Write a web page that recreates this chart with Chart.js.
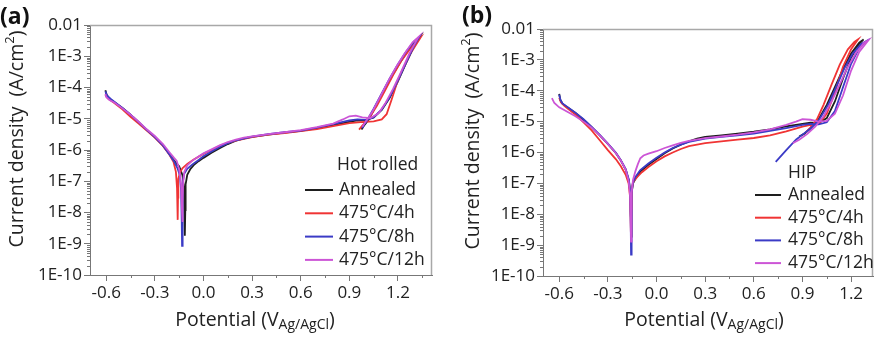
<!DOCTYPE html>
<html>
<head>
<meta charset="utf-8">
<script src="https://cdn.jsdelivr.net/npm/chart.js@4/dist/chart.umd.min.js"></script>
<style>
  html, body { margin: 0; padding: 0; background: #fff; }
  #wrap { position: relative; width: 876px; height: 338px; }
  canvas { position: absolute; top: 0; }
</style>
</head>
<body>
<div id="wrap">
  <canvas id="hot" width="440" height="338" style="left:0"></canvas>
  <canvas id="hip" width="436" height="338" style="left:440px"></canvas>
</div>
<script>
// axis ticks
const potentialTicks = [-0.6, -0.3, 0.0, 0.3, 0.6, 0.9, 1.2];
const potentialTickLabels = ['-0.6', '-0.3', '0.0', '0.3', '0.6', '0.9', '1.2'];
const currentTicks = [1e-10, 1e-9, 1e-8, 1e-7, 1e-6, 1e-5, 1e-4, 1e-3, 1e-2];
const currentTickLabels = ['1E-10', '1E-9', '1E-8', '1E-7', '1E-6', '1E-5', '1E-4', '1E-3', '0.01'];

const seriesNames = ['Annealed', '475\u00B0C/4h', '475\u00B0C/8h', '475\u00B0C/12h'];
const seriesColors = ['#1e1e1e', '#f03434', '#3b3bc6', '#cc55d6'];

// (a) hot rolled: [potential V, current density A/cm2]
const hotAnnealed = [[-0.605, 8.2e-5], [-0.598, 6e-5], [-0.58, 4.4e-5], [-0.55, 3.4e-5], [-0.5, 2.2e-5], [-0.45, 1.35e-5], [-0.4, 7.8e-6], [-0.35, 4.4e-6], [-0.3, 2.6e-6], [-0.25, 1.4e-6], [-0.21, 7.5e-7], [-0.18, 4.5e-7], [-0.165, 3.6e-7], [-0.15, 3e-7], [-0.13, 1.6e-7], [-0.12, 6e-8], [-0.116, 1e-8], [-0.114, 1.8e-9], [-0.112, 1.2e-8], [-0.11, 8e-8], [-0.1, 1.6e-7], [-0.08, 2.5e-7], [-0.06, 3.3e-7], [-0.03, 4.4e-7], [0.0, 5.6e-7], [0.05, 8.2e-7], [0.1, 1.15e-6], [0.15, 1.55e-6], [0.2, 2e-6], [0.25, 2.35e-6], [0.3, 2.65e-6], [0.4, 3.1e-6], [0.5, 3.6e-6], [0.6, 4.1e-6], [0.7, 5e-6], [0.8, 6.3e-6], [0.9, 8e-6], [0.95, 8.8e-6], [1.0, 9e-6], [1.05, 1.1e-5], [1.1, 1.9e-5], [1.15, 4.8e-5], [1.2, 1.6e-4], [1.25, 6e-4], [1.3, 2.1e-3], [1.335, 4.2e-3], [1.31, 3.2e-3], [1.26, 1.5e-3], [1.21, 6e-4], [1.16, 2.2e-4], [1.11, 7.5e-5], [1.06, 2.4e-5], [1.02, 9.5e-6], [0.99, 6e-6], [0.975, 4.5e-6]];
const hot4h = [[-0.605, 5.8e-5], [-0.59, 4.5e-5], [-0.55, 3.2e-5], [-0.5, 2e-5], [-0.45, 1.15e-5], [-0.4, 7e-6], [-0.35, 4.2e-6], [-0.3, 2.5e-6], [-0.25, 1.35e-6], [-0.21, 7e-7], [-0.185, 4.2e-7], [-0.17, 2e-7], [-0.163, 6e-8], [-0.16, 1.5e-8], [-0.158, 5.8e-9], [-0.157, 3e-8], [-0.155, 1.2e-7], [-0.145, 1.9e-7], [-0.13, 2.6e-7], [-0.1, 3.6e-7], [-0.06, 5e-7], [0.0, 7.5e-7], [0.05, 1e-6], [0.1, 1.35e-6], [0.15, 1.7e-6], [0.2, 2e-6], [0.3, 2.6e-6], [0.4, 3.1e-6], [0.5, 3.5e-6], [0.6, 4e-6], [0.7, 4.7e-6], [0.8, 5.8e-6], [0.9, 7.2e-6], [0.97, 7.8e-6], [1.05, 8.3e-6], [1.1, 9.5e-6], [1.13, 1.4e-5], [1.16, 4e-5], [1.19, 1.2e-4], [1.22, 3e-4], [1.28, 1.3e-3], [1.34, 4e-3], [1.32, 3.3e-3], [1.27, 1.6e-3], [1.22, 7e-4], [1.17, 2.5e-4], [1.12, 8e-5], [1.07, 2.6e-5], [1.02, 1e-5], [0.98, 6e-6], [0.96, 4.5e-6]];
const hot8h = [[-0.605, 7.5e-5], [-0.595, 5.5e-5], [-0.57, 4.2e-5], [-0.55, 3.5e-5], [-0.5, 2.2e-5], [-0.45, 1.35e-5], [-0.4, 7.8e-6], [-0.35, 4.4e-6], [-0.3, 2.6e-6], [-0.25, 1.4e-6], [-0.21, 7.2e-7], [-0.18, 4.2e-7], [-0.16, 2.6e-7], [-0.145, 1.5e-7], [-0.138, 5e-8], [-0.134, 5e-9], [-0.132, 8.5e-10], [-0.13, 1e-8], [-0.127, 8e-8], [-0.12, 1.7e-7], [-0.1, 2.5e-7], [-0.07, 3.4e-7], [-0.03, 4.8e-7], [0.0, 6.3e-7], [0.05, 9e-7], [0.1, 1.25e-6], [0.15, 1.65e-6], [0.2, 2.05e-6], [0.3, 2.7e-6], [0.4, 3.2e-6], [0.5, 3.7e-6], [0.6, 4.2e-6], [0.7, 5.2e-6], [0.8, 6.7e-6], [0.9, 8.8e-6], [0.95, 9.5e-6], [1.0, 9.2e-6], [1.05, 1.1e-5], [1.1, 2e-5], [1.15, 5e-5], [1.2, 1.7e-4], [1.25, 6.2e-4], [1.3, 2.2e-3], [1.33, 4e-3], [1.3, 3e-3], [1.25, 1.4e-3], [1.2, 5.6e-4], [1.15, 2e-4], [1.1, 6.5e-5], [1.05, 2.1e-5], [1.01, 9e-6], [0.99, 6.5e-6], [0.98, 5e-6]];
const hot12h = [[-0.605, 6.2e-5], [-0.6, 5e-5], [-0.58, 4e-5], [-0.55, 3.3e-5], [-0.5, 2.15e-5], [-0.45, 1.35e-5], [-0.4, 8e-6], [-0.35, 4.6e-6], [-0.3, 2.8e-6], [-0.25, 1.55e-6], [-0.21, 8.5e-7], [-0.18, 5.5e-7], [-0.165, 4.5e-7], [-0.15, 2.5e-7], [-0.138, 8e-8], [-0.132, 1e-8], [-0.13, 5e-9], [-0.128, 2e-8], [-0.125, 1e-7], [-0.118, 2e-7], [-0.1, 3.2e-7], [-0.07, 4.5e-7], [-0.03, 6.2e-7], [0.0, 7.8e-7], [0.05, 1.05e-6], [0.1, 1.4e-6], [0.15, 1.8e-6], [0.2, 2.15e-6], [0.25, 2.5e-6], [0.3, 2.75e-6], [0.4, 3.2e-6], [0.5, 3.7e-6], [0.6, 4.3e-6], [0.7, 5.4e-6], [0.8, 7e-6], [0.86, 9.5e-6], [0.9, 1.2e-5], [0.94, 1.25e-5], [0.98, 1.1e-5], [1.03, 1.05e-5], [1.08, 1.5e-5], [1.12, 3e-5], [1.17, 9e-5], [1.22, 3.2e-4], [1.27, 1.2e-3], [1.32, 3.6e-3], [1.33, 4.3e-3], [1.29, 2.8e-3], [1.24, 1.2e-3], [1.19, 4.6e-4], [1.14, 1.6e-4], [1.09, 5e-5], [1.04, 1.6e-5], [1.0, 8e-6], [0.98, 5.5e-6]];

// (b) HIP
const hipAnnealed = [[-0.6, 7.9e-5], [-0.593, 5e-5], [-0.58, 3.8e-5], [-0.55, 2.9e-5], [-0.5, 1.9e-5], [-0.45, 1.15e-5], [-0.4, 6.6e-6], [-0.35, 3.6e-6], [-0.3, 1.9e-6], [-0.25, 9.5e-7], [-0.22, 5.5e-7], [-0.19, 2.8e-7], [-0.17, 1.2e-7], [-0.162, 5e-8], [-0.158, 8e-9], [-0.156, 1.9e-9], [-0.154, 1e-8], [-0.152, 5e-8], [-0.145, 1e-7], [-0.13, 1.4e-7], [-0.1, 2.4e-7], [-0.05, 4e-7], [0.0, 6.2e-7], [0.05, 9.5e-7], [0.1, 1.35e-6], [0.15, 1.8e-6], [0.2, 2.3e-6], [0.25, 2.8e-6], [0.3, 3.2e-6], [0.4, 3.6e-6], [0.5, 4.1e-6], [0.6, 4.7e-6], [0.7, 5.6e-6], [0.8, 7e-6], [0.9, 8.5e-6], [0.95, 9.2e-6], [1.0, 9e-6], [1.05, 1.3e-5], [1.1, 4.5e-5], [1.15, 2.5e-4], [1.2, 1.2e-3], [1.25, 3.3e-3], [1.277, 4.6e-3], [1.25, 3.6e-3], [1.2, 1.6e-3], [1.15, 5e-4], [1.1, 1.3e-4], [1.05, 3.5e-5], [1.0, 1.2e-5], [0.95, 6e-6], [0.91, 4e-6], [0.88, 3.3e-6]];
const hip4h = [[-0.6, 6e-5], [-0.59, 4.2e-5], [-0.57, 3.3e-5], [-0.55, 2.7e-5], [-0.5, 1.7e-5], [-0.45, 9.5e-6], [-0.4, 5.2e-6], [-0.35, 2.5e-6], [-0.3, 1.2e-6], [-0.25, 6e-7], [-0.22, 3.6e-7], [-0.19, 1.9e-7], [-0.172, 1e-7], [-0.164, 4e-8], [-0.16, 8e-9], [-0.158, 2.5e-9], [-0.156, 1.5e-8], [-0.153, 6e-8], [-0.145, 1.1e-7], [-0.12, 1.6e-7], [-0.09, 2.3e-7], [-0.05, 3.4e-7], [0.0, 5.2e-7], [0.05, 7.5e-7], [0.1, 1e-6], [0.15, 1.3e-6], [0.2, 1.6e-6], [0.3, 2e-6], [0.4, 2.3e-6], [0.5, 2.6e-6], [0.6, 2.95e-6], [0.7, 3.6e-6], [0.8, 4.8e-6], [0.9, 6.9e-6], [0.95, 7.8e-6], [1.0, 8.5e-6], [1.05, 1.8e-5], [1.1, 9e-5], [1.15, 6e-4], [1.2, 2.2e-3], [1.243, 4.6e-3], [1.22, 3.8e-3], [1.18, 2.2e-3], [1.13, 7e-4], [1.08, 1.6e-4], [1.03, 3.5e-5], [0.99, 1.2e-5], [0.95, 6.5e-6], [0.92, 4.5e-6]];
const hip8h = [[-0.6, 7.5e-5], [-0.592, 5e-5], [-0.58, 3.9e-5], [-0.55, 3e-5], [-0.5, 1.95e-5], [-0.45, 1.2e-5], [-0.4, 6.8e-6], [-0.35, 3.7e-6], [-0.3, 1.95e-6], [-0.25, 9.8e-7], [-0.22, 5.6e-7], [-0.19, 2.9e-7], [-0.17, 1.3e-7], [-0.162, 5e-8], [-0.159, 5e-9], [-0.157, 4.9e-10], [-0.155, 8e-9], [-0.152, 5e-8], [-0.145, 1.1e-7], [-0.13, 1.6e-7], [-0.1, 2.7e-7], [-0.05, 4.4e-7], [0.0, 6.8e-7], [0.05, 1e-6], [0.1, 1.4e-6], [0.15, 1.8e-6], [0.2, 2.2e-6], [0.3, 2.8e-6], [0.4, 3.2e-6], [0.5, 3.6e-6], [0.6, 4.1e-6], [0.7, 5e-6], [0.8, 6.2e-6], [0.9, 7.8e-6], [0.95, 8.4e-6], [1.0, 8.2e-6], [1.05, 9.5e-6], [1.1, 2.2e-5], [1.15, 1.3e-4], [1.2, 7.5e-4], [1.25, 2.4e-3], [1.288, 3.9e-3], [1.26, 3.2e-3], [1.21, 1.6e-3], [1.16, 5.5e-4], [1.11, 1.4e-4], [1.06, 3.6e-5], [1.0, 1.1e-5], [0.95, 6e-6], [0.9, 3.8e-6], [0.86, 2.6e-6], [0.8, 1.2e-6], [0.735, 5e-7]];
const hip12h = [[-0.645, 5.8e-5], [-0.63, 4e-5], [-0.6, 2.9e-5], [-0.55, 2.1e-5], [-0.5, 1.5e-5], [-0.45, 1e-5], [-0.4, 6.4e-6], [-0.35, 3.6e-6], [-0.3, 1.9e-6], [-0.25, 9.5e-7], [-0.22, 5.5e-7], [-0.19, 2.8e-7], [-0.172, 1.2e-7], [-0.163, 4e-8], [-0.159, 5e-9], [-0.157, 1.3e-9], [-0.155, 1e-8], [-0.152, 5e-8], [-0.145, 1.3e-7], [-0.13, 2.5e-7], [-0.115, 4.2e-7], [-0.1, 6.5e-7], [-0.08, 8e-7], [-0.05, 9.2e-7], [0.0, 1.1e-6], [0.05, 1.4e-6], [0.1, 1.7e-6], [0.15, 2.05e-6], [0.2, 2.4e-6], [0.3, 2.9e-6], [0.4, 3.3e-6], [0.5, 3.8e-6], [0.6, 4.5e-6], [0.7, 5.6e-6], [0.8, 7.8e-6], [0.86, 1e-5], [0.9, 1.2e-5], [0.95, 1.15e-5], [1.0, 1e-5], [1.05, 1.05e-5], [1.1, 1.8e-5], [1.15, 7e-5], [1.2, 4.5e-4], [1.25, 1.8e-3], [1.308, 4.4e-3], [1.28, 3.6e-3], [1.23, 1.7e-3], [1.18, 6e-4], [1.13, 1.6e-4], [1.08, 4.5e-5], [1.03, 1.5e-5], [0.98, 7e-6], [0.93, 4e-6], [0.88, 2.6e-6], [0.84, 2e-6]];

const FONT = "'Open Sans', 'DejaVu Sans', sans-serif";

// draws frame, minor ticks, axis titles with sub/superscripts, panel tag and legend
const decor = {
  id: 'decor',
  afterDraw(chart, args, o) {
    const { ctx, chartArea: a, scales } = chart;
    ctx.save();

    ctx.strokeStyle = '#a8a8a8';
    ctx.lineWidth = 1.5;
    ctx.beginPath();
    ctx.moveTo(a.left, a.top + 0.5);
    ctx.lineTo(a.right - 0.5, a.top + 0.5);
    ctx.lineTo(a.right - 0.5, a.bottom);
    ctx.stroke();

    // minor ticks
    ctx.strokeStyle = '#777';
    ctx.lineWidth = 1;
    ctx.beginPath();
    for (let k = -10; k < -2; k++) {
      for (let m = 2; m <= 9; m++) {
        const y = Math.round(scales.y.getPixelForValue(m * Math.pow(10, k))) + 0.5;
        ctx.moveTo(a.left - 3, y);
        ctx.lineTo(a.left, y);
      }
    }
    potentialTicks.map((t) => t + 0.15).filter((v) => v < scales.x.max).forEach((v) => {
      const x = Math.round(scales.x.getPixelForValue(v)) + 0.5;
      ctx.moveTo(x, a.bottom);
      ctx.lineTo(x, a.bottom + 3);
    });
    ctx.stroke();

    ctx.fillStyle = '#222';
    ctx.textBaseline = 'middle';
    ctx.textAlign = 'left';

    // y title
    const big = `19.5px ${FONT}`;
    const partsY = [['Current density  (A/cm', big, 0], ['2', `13px ${FONT}`, -7], [')', big, 0]];
    drawParts(ctx, partsY, o.yTitleX, o.yTitleY, -Math.PI / 2);

    // x title
    const partsX = [['Potential (V', big, 0], ['Ag/AgCl', `14px ${FONT}`, 5], [')', big, 0]];
    drawParts(ctx, partsX, o.xTitleX, o.xTitleY, 0);

    // panel tag
    ctx.font = `bold 23px ${FONT}`;
    ctx.textBaseline = 'alphabetic';
    ctx.fillStyle = '#111';
    ctx.fillText(o.tag, o.tagX, o.tagY);

    // legend
    ctx.textBaseline = 'middle';
    ctx.font = `17.5px ${FONT}`;
    ctx.fillStyle = '#222';
    ctx.fillText(o.legendTitle, o.legendTitleX, o.legendTitleY);
    chart.data.datasets.forEach((ds, i) => {
      const y = o.legendY + i * o.legendGap;
      ctx.strokeStyle = ds.borderColor;
      ctx.lineWidth = 2;
      ctx.beginPath();
      ctx.moveTo(o.legendLineX0, y);
      ctx.lineTo(o.legendLineX1, y);
      ctx.stroke();
      ctx.fillStyle = '#222';
      ctx.fillText(ds.label, o.legendTextX, y);
    });

    ctx.restore();
  },
};

function drawParts(ctx, parts, cx, cy, rot) {
  ctx.save();
  ctx.translate(cx, cy);
  ctx.rotate(rot);
  let total = 0;
  parts.forEach(([t, f]) => { ctx.font = f; total += ctx.measureText(t).width; });
  let x = -total / 2;
  parts.forEach(([t, f, dy]) => {
    ctx.font = f;
    ctx.fillText(t, x, dy);
    x += ctx.measureText(t).width;
  });
  ctx.restore();
}

function makeDatasets(series) {
  return series.map((pairs, i) => ({
    label: seriesNames[i],
    data: pairs.map(([x, y]) => ({ x, y })),
    borderColor: seriesColors[i],
    backgroundColor: seriesColors[i],
    borderWidth: 1.8,
    pointRadius: 0,
    showLine: true,
    fill: false,
    tension: 0,
    order: 4 - i,
  }));
}

function axisStyle() {
  return {
    grid: { display: true, drawOnChartArea: false, drawTicks: true, tickLength: 6, color: '#777', lineWidth: 1 },
    border: { display: true, color: '#777', width: 1 },
  };
}

function makeChart(id, series, geom, deco) {
  return new Chart(document.getElementById(id), {
    type: 'scatter',
    data: { datasets: makeDatasets(series) },
    plugins: [decor],
    options: {
      responsive: false,
      animation: false,
      events: [],
      layout: { padding: { left: 0, top: geom.top, right: geom.right, bottom: 0 } },
      plugins: { legend: { display: false }, tooltip: { enabled: false }, decor: deco },
      scales: {
        x: {
          type: 'linear',
          min: -0.7,
          max: geom.xMax,
          ...axisStyle(),
          afterBuildTicks: (s) => { s.ticks = potentialTicks.map((v) => ({ value: v })); },
          afterFit: (s) => { s.height = geom.bottom; },
          ticks: {
            autoSkip: false, maxRotation: 0, padding: 2, color: '#222',
            font: { family: FONT, size: 17 },
            callback: (v, i) => potentialTickLabels[i],
          },
        },
        y: {
          type: 'logarithmic',
          min: 1e-10,
          max: 1e-2,
          ...axisStyle(),
          afterBuildTicks: (s) => { s.ticks = currentTicks.map((v) => ({ value: v })); },
          afterFit: (s) => { s.width = geom.left; },
          ticks: {
            autoSkip: false, padding: 2, color: '#222',
            font: { family: FONT, size: 17 },
            callback: (v, i) => currentTickLabels[i],
          },
        },
      },
    },
  });
}

makeChart('hot', [hotAnnealed, hot4h, hot8h, hot12h],
  { left: 90, top: 25, right: 8, bottom: 63, xMax: 1.41 },
  {
    tag: '(a)', tagX: 0, tagY: 24,
    yTitleX: 17, yTitleY: 139, xTitleX: 255, xTitleY: 320,
    legendTitle: 'Hot rolled', legendTitleX: 337, legendTitleY: 165,
    legendY: 190, legendGap: 23.3, legendLineX0: 305, legendLineX1: 333, legendTextX: 339,
  });

makeChart('hip', [hipAnnealed, hip4h, hip8h, hip12h],
  { left: 103, top: 29, right: 3, bottom: 62, xMax: 1.335 },
  {
    tag: '(b)', tagX: 22, tagY: 23,
    yTitleX: 33, yTitleY: 141, xTitleX: 264, xTitleY: 320,
    legendTitle: 'HIP', legendTitleX: 348, legendTitleY: 173,
    legendY: 195, legendGap: 22.7, legendLineX0: 315, legendLineX1: 341, legendTextX: 348,
  });
</script>
</body>
</html>
